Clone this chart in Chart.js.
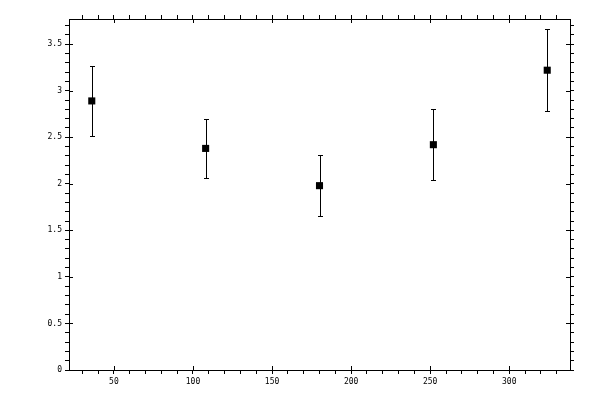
<!DOCTYPE html>
<html>
<head>
<meta charset="utf-8">
<script src="https://cdn.jsdelivr.net/npm/chart.js@4"></script>
<style>
html,body{margin:0;padding:0;background:#fff;}
#wrap{width:600px;height:400px;}
</style>
</head>
<body>
<div id="wrap"><canvas id="c" width="600" height="400"></canvas></div>
<script>
// ---- data ----
const xValues = [36, 108, 180, 252, 324];
const yValues = [2.89, 2.38, 1.98, 2.42, 3.22];
const yErrors = [0.38, 0.32, 0.33, 0.38, 0.44];
const xMajorTicks = [50, 100, 150, 200, 250, 300];
const yMajorTicks = [0, 0.5, 1, 1.5, 2, 2.5, 3, 3.5];
const xRange = [21.6, 338.4];
const yRange = [0, 3.77];
const xMinorStep = 10;
const yMinorStep = 0.1;

function buildTicks(min, max, step) {
  const out = [];
  const start = Math.ceil(min / step - 1e-9);
  const end = Math.floor(max / step + 1e-9);
  for (let i = start; i <= end; i++) out.push({ value: +(i * step).toFixed(6) });
  return out;
}
function isMajor(v, majors) {
  return majors.some(m => Math.abs(m - v) < 1e-6);
}

const font = { family: 'DejaVu Sans Mono', size: 8 };

function axis(kind, position, showLabels, size) {
  const isX = kind === 'x';
  const range = isX ? xRange : yRange;
  const step = isX ? xMinorStep : yMinorStep;
  const majors = isX ? xMajorTicks : yMajorTicks;
  return {
    type: 'linear',
    axis: kind,
    position: position,
    min: range[0],
    max: range[1],
    afterBuildTicks: s => { s.ticks = buildTicks(range[0], range[1], step); },
    afterFit: s => { if (isX) s.height = size; else s.width = size; },
    border: { display: true, color: '#000', width: 1 },
    grid: {
      display: true,
      drawOnChartArea: false,
      drawTicks: true,
      tickLength: 4,
      color: '#000',
      lineWidth: 1
    },
    ticks: {
      display: showLabels,
      autoSkip: false,
      maxRotation: 0,
      padding: 3,
      color: '#000',
      font: font,
      callback: v => isMajor(v, majors) ? String(+v.toFixed(2)) : ''
    }
  };
}

const errorBarPlugin = {
  id: 'errorBars',
  afterDatasetsDraw(chart) {
    const ctx = chart.ctx;
    const xs = chart.scales.x, ys = chart.scales.y;
    ctx.save();
    ctx.strokeStyle = '#000';
    ctx.lineWidth = 1;
    for (let i = 0; i < xValues.length; i++) {
      const px = Math.round(xs.getPixelForValue(xValues[i])) + 0.5;
      const top = Math.round(ys.getPixelForValue(yValues[i] + yErrors[i])) + 0.5;
      const bot = Math.round(ys.getPixelForValue(yValues[i] - yErrors[i])) + 0.5;
      ctx.beginPath();
      ctx.moveTo(px, top); ctx.lineTo(px, bot);
      ctx.moveTo(px - 2.5, top); ctx.lineTo(px + 2.5, top);
      ctx.moveTo(px - 2.5, bot); ctx.lineTo(px + 2.5, bot);
      ctx.stroke();
    }
    ctx.restore();
  },
  afterDraw(chart) {
    // inward part of major ticks on all four sides
    const ctx = chart.ctx;
    const a = chart.chartArea;
    ctx.save();
    ctx.strokeStyle = '#000';
    ctx.lineWidth = 1;
    ctx.beginPath();
    const xs = chart.scales.x, ys = chart.scales.y;
    xMajorTicks.forEach(v => {
      const px = Math.round(xs.getPixelForValue(v)) + 0.5;
      ctx.moveTo(px, a.bottom); ctx.lineTo(px, a.bottom - 4);
      ctx.moveTo(px, a.top); ctx.lineTo(px, a.top + 4);
    });
    yMajorTicks.forEach(v => {
      const py = Math.round(ys.getPixelForValue(v)) + 0.5;
      ctx.moveTo(a.left, py); ctx.lineTo(a.left + 4, py);
      ctx.moveTo(a.right, py); ctx.lineTo(a.right - 4, py);
    });
    ctx.stroke();
    ctx.restore();
  }
};

new Chart(document.getElementById('c'), {
  type: 'scatter',
  data: {
    datasets: [{
      data: xValues.map((x, i) => ({ x: x, y: yValues[i] })),
      backgroundColor: '#000',
      borderColor: '#000',
      borderWidth: 0,
      pointStyle: 'rect',
      pointRadius: 5,
      pointHoverRadius: 5
    }]
  },
  options: {
    responsive: false,
    animation: false,
    devicePixelRatio: 1,
    layout: { padding: 0 },
    plugins: { legend: { display: false }, tooltip: { enabled: false } },
    scales: {
      x: axis('x', 'bottom', true, 30),
      x2: axis('x', 'top', false, 19),
      y: axis('y', 'left', true, 69),
      y2: axis('y', 'right', false, 30)
    }
  },
  plugins: [errorBarPlugin]
});
</script>
</body>
</html>
